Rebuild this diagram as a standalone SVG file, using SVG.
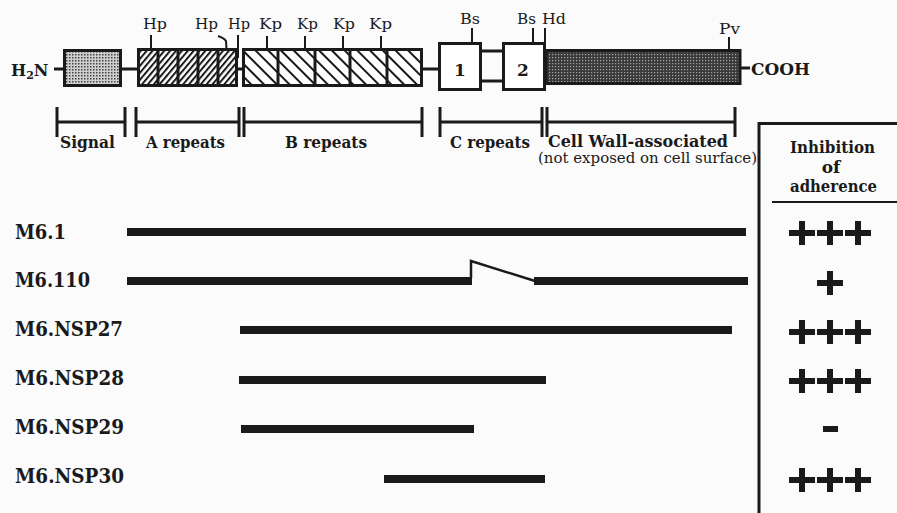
<svg xmlns="http://www.w3.org/2000/svg" width="897" height="513" viewBox="0 0 897 513">
<style>
.b{font-family:"DejaVu Serif","Liberation Serif",serif;font-weight:bold;fill:#1a1a1a}
.r{font-family:"DejaVu Serif","Liberation Serif",serif;font-weight:normal;fill:#1a1a1a}
.box{stroke:#1a1a1a;stroke-width:3}
.ln{stroke:#1a1a1a;stroke-width:3;fill:none}
.tk{stroke:#1a1a1a;stroke-width:2;fill:none}
.bar{fill:#1a1a1a}
</style>
<defs>
<pattern id="dotsL" width="3" height="3" patternUnits="userSpaceOnUse">
<rect width="3" height="3" fill="#cfcfcf"/><rect width="1.5" height="1.5" fill="#444"/>
</pattern>
<pattern id="dotsD" width="3" height="3" patternUnits="userSpaceOnUse">
<rect width="3" height="3" fill="#3a3a3a"/><rect width="1.2" height="1.2" fill="#aaa"/>
</pattern>
<pattern id="hatchA" width="4.5" height="10" patternUnits="userSpaceOnUse" patternTransform="rotate(40)">
<rect width="4.5" height="10" fill="#fff"/><line x1="1" y1="0" x2="1" y2="10" stroke="#1a1a1a" stroke-width="2"/>
</pattern>
<pattern id="hatchB" width="9" height="10" patternUnits="userSpaceOnUse" patternTransform="rotate(-45)">
<rect width="9" height="10" fill="#fff"/><line x1="1" y1="0" x2="1" y2="10" stroke="#1a1a1a" stroke-width="2"/>
</pattern>
<path id="plus" d="M-13,-3H-3V-12H3V-3H13V3H3V12H-3V3H-13Z" fill="#1a1a1a"/>
</defs>
<rect width="897" height="513" fill="#fbfbfb"/>

<g id="connectors">
<line class="ln" x1="54" y1="69" x2="64" y2="69"/>
<line class="ln" x1="121" y1="69" x2="138" y2="69"/>
<line class="ln" x1="236" y1="69" x2="243" y2="69"/>
<line class="ln" x1="422" y1="69" x2="439" y2="69"/>
<line class="ln" x1="481" y1="51" x2="503" y2="51"/>
<line class="ln" x1="481" y1="81" x2="503" y2="81"/>
<line class="ln" x1="740" y1="68" x2="750" y2="68"/>
</g>

<g id="termini">
<text class="b" x="11" y="76" font-size="16">H<tspan font-size="11" dy="3">2</tspan><tspan dy="-3">N</tspan></text>
<text class="b" x="751" y="75" font-size="17" textLength="59" lengthAdjust="spacingAndGlyphs">COOH</text>
</g>

<g id="signal">
<rect class="box" x="64.5" y="50.5" width="56" height="35" fill="url(#dotsL)"/>
</g>

<g id="a-repeats">
<rect class="box" x="138.5" y="49.5" width="98" height="36" fill="url(#hatchA)"/>
<g class="ln">
<line x1="158" y1="49" x2="158" y2="86"/>
<line x1="178" y1="49" x2="178" y2="86"/>
<line x1="198" y1="49" x2="198" y2="86"/>
<line x1="218" y1="49" x2="218" y2="86"/>
</g>
</g>

<g id="b-repeats">
<rect class="box" x="243.5" y="49.5" width="178" height="36" fill="url(#hatchB)"/>
<g class="ln">
<line x1="278" y1="49" x2="278" y2="86"/>
<line x1="315" y1="49" x2="315" y2="86"/>
<line x1="350" y1="49" x2="350" y2="86"/>
<line x1="387" y1="49" x2="387" y2="86"/>
</g>
</g>

<g id="c1">
<rect class="box" x="439.5" y="43.5" width="41" height="46" fill="#fff"/>
<text class="b" x="460" y="76" font-size="17" text-anchor="middle">1</text>
</g>
<g id="c2">
<rect class="box" x="503.5" y="43.5" width="41" height="46" fill="#fff"/>
<text class="b" x="523" y="76" font-size="17" text-anchor="middle">2</text>
</g>

<g id="cell-wall">
<rect class="box" x="546" y="50.5" width="194" height="33" fill="url(#dotsD)"/>
</g>

<g id="sites">
<g class="tk">
<line x1="151" y1="35" x2="151" y2="49"/>
<path d="M218,36 Q224,38 226,41 L226.5,49"/>
<line x1="238" y1="35" x2="238" y2="58"/>
<line x1="267" y1="36" x2="267" y2="49"/>
<line x1="305" y1="36" x2="305" y2="49"/>
<line x1="343" y1="36" x2="343" y2="49"/>
<line x1="381" y1="36" x2="381" y2="49"/>
<line x1="472" y1="28" x2="472" y2="43"/>
<line x1="533" y1="28" x2="533" y2="43"/>
<line x1="545" y1="28" x2="545" y2="48"/>
<line x1="729" y1="37" x2="729" y2="50"/>
</g>
<text class="r" x="143" y="29" font-size="15" textLength="24" lengthAdjust="spacingAndGlyphs">Hp</text>
<text class="r" x="195" y="29" font-size="15" textLength="23" lengthAdjust="spacingAndGlyphs">Hp</text>
<text class="r" x="228" y="29" font-size="15" textLength="22" lengthAdjust="spacingAndGlyphs">Hp</text>
<text class="r" x="259" y="29" font-size="15" textLength="23" lengthAdjust="spacingAndGlyphs">Kp</text>
<text class="r" x="297" y="29" font-size="15" textLength="21" lengthAdjust="spacingAndGlyphs">Kp</text>
<text class="r" x="333" y="29" font-size="15" textLength="22" lengthAdjust="spacingAndGlyphs">Kp</text>
<text class="r" x="369" y="29" font-size="15" textLength="23" lengthAdjust="spacingAndGlyphs">Kp</text>
<text class="r" x="460" y="24" font-size="15" textLength="20" lengthAdjust="spacingAndGlyphs">Bs</text>
<text class="r" x="517" y="24" font-size="15" textLength="19" lengthAdjust="spacingAndGlyphs">Bs</text>
<text class="r" x="542" y="24" font-size="15" textLength="24" lengthAdjust="spacingAndGlyphs">Hd</text>
<text class="r" x="719" y="34" font-size="15" textLength="21" lengthAdjust="spacingAndGlyphs">Pv</text>
</g>

<g id="brackets" class="ln">
<path d="M57,107V137M125,107V137M57,122H125"/>
<path d="M136,107V137M239,107V137M244,107V137M136,122H239"/>
<path d="M244,122H422M422,107V137"/>
<path d="M440,107V137M542,107V137M547,107V137M440,122H542"/>
<path d="M547,122H735M735,107V137"/>
</g>
<g id="region-labels">
<text class="b" x="60" y="148" font-size="16" textLength="55" lengthAdjust="spacingAndGlyphs">Signal</text>
<text class="b" x="146" y="148" font-size="16" textLength="79" lengthAdjust="spacingAndGlyphs">A repeats</text>
<text class="b" x="285" y="148" font-size="16" textLength="82" lengthAdjust="spacingAndGlyphs">B repeats</text>
<text class="b" x="450" y="148" font-size="16" textLength="80" lengthAdjust="spacingAndGlyphs">C repeats</text>
<text class="b" x="548" y="147" font-size="16" textLength="180" lengthAdjust="spacingAndGlyphs">Cell Wall-associated</text>
<text class="r" x="538" y="163" font-size="14" textLength="219" lengthAdjust="spacingAndGlyphs">(not exposed on cell surface)</text>
</g>

<g id="inhibition-panel">
<path class="ln" d="M759,513V123.5H897"/>
<line x1="772" y1="202" x2="897" y2="202" stroke="#1a1a1a" stroke-width="2"/>
<text class="b" x="790" y="153" font-size="17" textLength="85" lengthAdjust="spacingAndGlyphs">Inhibition</text>
<text class="b" x="831" y="173" font-size="17" text-anchor="middle">of</text>
<text class="b" x="790" y="192" font-size="17" textLength="87" lengthAdjust="spacingAndGlyphs">adherence</text>
</g>

<g id="m6-1">
<text class="b" x="15" y="239" font-size="20" textLength="51" lengthAdjust="spacingAndGlyphs">M6.1</text>
<rect class="bar" x="127" y="228" width="619" height="8"/>
<use href="#plus" x="802" y="233"/><use href="#plus" x="830" y="233"/><use href="#plus" x="858" y="233"/>
</g>
<g id="m6-110">
<text class="b" x="15" y="287" font-size="20" textLength="75" lengthAdjust="spacingAndGlyphs">M6.110</text>
<rect class="bar" x="127" y="277" width="345" height="8"/>
<path d="M471,278V261L535,281" stroke="#1a1a1a" stroke-width="2.5" fill="none"/>
<rect class="bar" x="534" y="277" width="214" height="8"/>
<use href="#plus" x="830" y="283"/>
</g>
<g id="m6-nsp27">
<text class="b" x="15" y="336" font-size="20" textLength="108" lengthAdjust="spacingAndGlyphs">M6.NSP27</text>
<rect class="bar" x="240" y="326" width="492" height="8"/>
<use href="#plus" x="802" y="332"/><use href="#plus" x="830" y="332"/><use href="#plus" x="858" y="332"/>
</g>
<g id="m6-nsp28">
<text class="b" x="15" y="385" font-size="20" textLength="109" lengthAdjust="spacingAndGlyphs">M6.NSP28</text>
<rect class="bar" x="239" y="376" width="307" height="8"/>
<use href="#plus" x="802" y="381"/><use href="#plus" x="830" y="381"/><use href="#plus" x="858" y="381"/>
</g>
<g id="m6-nsp29">
<text class="b" x="15" y="434" font-size="20" textLength="109" lengthAdjust="spacingAndGlyphs">M6.NSP29</text>
<rect class="bar" x="241" y="425" width="233" height="8"/>
<rect class="bar" x="823" y="426" width="15" height="6"/>
</g>
<g id="m6-nsp30">
<text class="b" x="15" y="483" font-size="20" textLength="109" lengthAdjust="spacingAndGlyphs">M6.NSP30</text>
<rect class="bar" x="384" y="475" width="161" height="8"/>
<use href="#plus" x="802" y="480"/><use href="#plus" x="830" y="480"/><use href="#plus" x="858" y="480"/>
</g>
</svg>
